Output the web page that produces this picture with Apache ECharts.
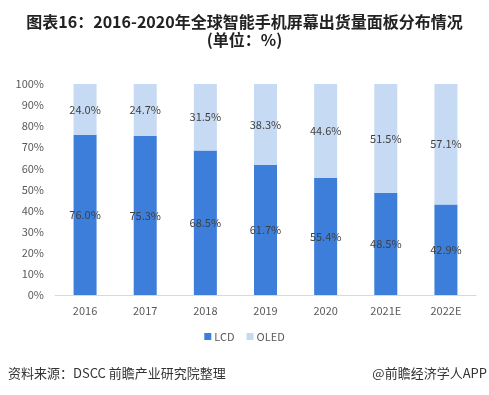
<!DOCTYPE html>
<html><head><meta charset="utf-8">
<script src="https://cdn.jsdelivr.net/npm/echarts@6/dist/echarts.min.js"></script>
<style>html,body{margin:0;padding:0;background:#fff;}#c{width:489px;height:395px;}</style>
</head><body><div id="c"></div>
<script>
const categories = ['2016','2017','2018','2019','2020','2021E','2022E'];
const lcd = [76.0, 75.3, 68.5, 61.7, 55.4, 48.5, 42.9];
const oled = [24.0, 24.7, 31.5, 38.3, 44.6, 51.5, 57.1];
const yTicks = [0,10,20,30,40,50,60,70,80,90,100];

const chart = echarts.init(document.getElementById('c'), null, {renderer:'canvas'});
const font = '"Microsoft YaHei","Noto Sans CJK SC",sans-serif';
chart.setOption({
  animation:false,
  backgroundColor:'#fff',
  textStyle:{fontFamily:font},
  title:{
    text:'图表16：2016-2020年全球智能手机屏幕出货量面板分布情况\n(单位：%)',
    left:'center', top:8,
    textStyle:{fontSize:16, fontWeight:'bold', color:'#222', lineHeight:18, fontFamily:font}
  },
  grid:{left:55, right:13, top:84, bottom:100},
  legend:{
    data:['LCD','OLED'], bottom:48, left:'center',
    itemWidth:7, itemHeight:7, itemGap:12,
    icon:'rect',
    textStyle:{fontSize:11, color:'#595959', padding:[0,0,0,-2]}
  },
  xAxis:{
    type:'category', data:categories,
    axisLine:{lineStyle:{color:'#d9d9d9'}},
    axisTick:{show:false},
    axisLabel:{color:'#595959', fontSize:11, margin:10}
  },
  yAxis:{
    type:'value', min:0, max:100, interval:10,
    splitLine:{show:false},
    axisLine:{show:false}, axisTick:{show:false},
    axisLabel:{color:'#595959', fontSize:11, margin:11, formatter:v=>yTicks.includes(v)?v+'%':''}
  },
  series:[
    {name:'LCD', type:'bar', stack:'a', data:lcd, barWidth:23,
     itemStyle:{color:'#3C7ED9'},
     label:{show:true, position:'inside', color:'#404040', fontSize:11, formatter:p=>p.value.toFixed(1)+'%'}},
    {name:'OLED', type:'bar', stack:'a', data:oled, barWidth:23,
     itemStyle:{color:'#C6DAF3'},
     label:{show:true, position:'inside', color:'#404040', fontSize:11, formatter:p=>p.value.toFixed(1)+'%'}}
  ],
  graphic:[
    {type:'text', left:8, top:367, style:{text:'资料来源：DSCC 前瞻产业研究院整理', fontSize:13, fill:'#333', fontFamily:font}},
    {type:'text', right:2, top:367, style:{text:'@前瞻经济学人APP', fontSize:13, fill:'#333', fontFamily:font}}
  ]
});
</script></body></html>
